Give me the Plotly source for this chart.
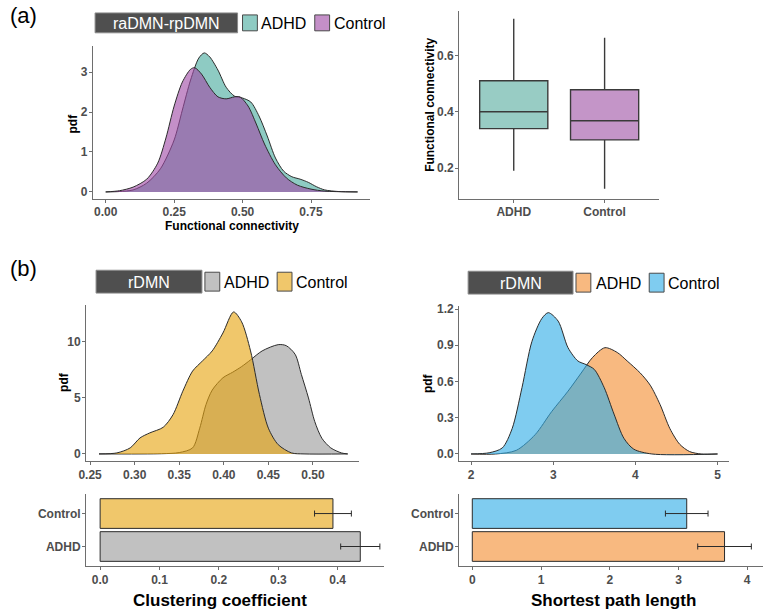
import plotly.graph_objects as go

W, H = 765, 610
FONT = "Liberation Sans"
TICK_GRAY = "#4D4D4D"
AXIS_GRAY = "#6E6E6E"
EDGE = "#2B2B2B"

# ---------------- data ----------------
# (a) raDMN-rpDMN functional connectivity, kernel density
fc_x_adhd = [0.0, 0.05, 0.10, 0.15, 0.20, 0.25, 0.28, 0.31, 0.34, 0.36, 0.38, 0.41, 0.44,
             0.47, 0.50, 0.53, 0.56, 0.59, 0.62, 0.65, 0.68, 0.71, 0.74, 0.77, 0.80, 0.85, 0.92]
fc_pdf_adhd = [0.0, 0.01, 0.05, 0.22, 0.58, 1.30, 2.05, 2.80, 3.35, 3.48, 3.38, 3.05, 2.62,
               2.40, 2.35, 2.25, 1.90, 1.40, 0.85, 0.52, 0.38, 0.32, 0.24, 0.13, 0.05, 0.01, 0.0]
fc_x_ctrl = [0.0, 0.05, 0.10, 0.15, 0.19, 0.22, 0.25, 0.28, 0.31, 0.325, 0.35, 0.38, 0.41,
             0.44, 0.47, 0.49, 0.52, 0.55, 0.58, 0.62, 0.66, 0.70, 0.75, 0.80, 0.92]
fc_pdf_ctrl = [0.0, 0.03, 0.12, 0.32, 0.72, 1.35, 2.15, 2.75, 3.07, 3.11, 2.95, 2.62, 2.38,
               2.33, 2.38, 2.38, 2.15, 1.70, 1.20, 0.68, 0.35, 0.17, 0.07, 0.02, 0.0]

# (a) boxplot summary
box_groups = ["ADHD", "Control"]
box_low = [0.19, 0.126]
box_q1 = [0.34, 0.30]
box_med = [0.40, 0.368]
box_q3 = [0.51, 0.478]
box_high = [0.73, 0.663]

# (b) rDMN clustering coefficient, kernel density
cc_x_adhd = [0.26, 0.33, 0.35, 0.365, 0.373, 0.38, 0.387, 0.399, 0.41, 0.42, 0.43, 0.443,
             0.461, 0.47, 0.48, 0.487, 0.495, 0.502, 0.51, 0.52, 0.532, 0.539]
cc_pdf_adhd = [0.0, 0.02, 0.12, 0.54, 2.3, 4.4, 5.7, 6.8, 7.3, 7.8, 8.4, 9.2,
               9.76, 9.67, 8.9, 7.1, 5.0, 2.9, 1.4, 0.54, 0.09, 0.0]
cc_x_ctrl = [0.26, 0.28, 0.295, 0.306, 0.317, 0.332, 0.343, 0.354, 0.365, 0.376, 0.387,
             0.399, 0.411, 0.42, 0.43, 0.44, 0.45, 0.461, 0.476, 0.49, 0.539]
cc_pdf_ctrl = [0.0, 0.09, 0.54, 1.43, 1.88, 2.38, 3.5, 5.6, 7.4, 8.3, 9.2,
               10.8, 12.68, 11.8, 9.2, 5.3, 2.3, 0.83, 0.09, 0.0, 0.0]

# (b) rDMN shortest path length, kernel density
spl_x_adhd = [2.0, 2.3, 2.55, 2.78, 2.98, 3.18, 3.34, 3.48, 3.63, 3.78, 3.9, 4.06, 4.18,
              4.3, 4.42, 4.54, 4.66, 4.8, 5.0]
spl_pdf_adhd = [0.0, 0.0, 0.03, 0.16, 0.35, 0.52, 0.67, 0.80, 0.88, 0.84, 0.77, 0.67, 0.57,
                0.41, 0.21, 0.08, 0.02, 0.0, 0.0]
spl_x_ctrl = [2.0, 2.22, 2.38, 2.5, 2.62, 2.74, 2.86, 2.94, 3.06, 3.18, 3.3, 3.4, 3.5,
              3.62, 3.74, 3.86, 3.98, 4.2, 5.0]
spl_pdf_ctrl = [0.0, 0.01, 0.05, 0.21, 0.55, 0.93, 1.12, 1.17, 1.10, 0.88, 0.77, 0.74, 0.70,
                0.55, 0.33, 0.13, 0.04, 0.0, 0.0]

# (b) group means with error bars
bar_groups = ["ADHD", "Control"]
cc_mean = [0.438, 0.392]
cc_err = [0.033, 0.031]
spl_mean = [3.67, 3.12]
spl_err = [0.39, 0.31]

# colours (alpha fills like ggplot)
COL_TEAL = "rgba(73,171,158,0.62)"
COL_PURPLE = "rgba(160,74,166,0.62)"
COL_GRAY = "rgba(155,155,155,0.62)"
COL_YELLOW = "rgba(230,165,16,0.62)"
COL_ORANGE = "rgba(244,142,50,0.62)"
COL_BLUE = "rgba(48,173,231,0.62)"


def px(x):
    return x / W


def py(y):
    return 1 - y / H


def axis(dom, rng, tickvals=None, fmt=None, anchor=None, **kw):
    d = dict(
        domain=dom, range=rng, anchor=anchor, showline=True, linecolor=AXIS_GRAY,
        linewidth=1.3, ticks="outside", ticklen=3, tickcolor=AXIS_GRAY, tickwidth=1,
        ticklabelstandoff=-1,
        showgrid=False, zeroline=False, fixedrange=True,
        tickfont=dict(family=FONT, size=12, color=TICK_GRAY, weight="bold"),
    )
    if tickvals is not None:
        d["tickvals"] = tickvals
    if fmt:
        d["tickformat"] = fmt
    d.update(kw)
    return d


def density(x, y, color, xa, ya):
    return go.Scatter(
        x=x, y=y, mode="lines", fill="tozeroy", fillcolor=color,
        line=dict(color=EDGE, width=1, shape="spline", smoothing=0.8),
        xaxis=xa, yaxis=ya, hoverinfo="skip",
    )


fig = go.Figure()

# (a) density
fig.add_trace(density(fc_x_adhd, fc_pdf_adhd, COL_TEAL, "x", "y"))
fig.add_trace(density(fc_x_ctrl, fc_pdf_ctrl, COL_PURPLE, "x", "y"))

# (a) boxplot
for i, fill in enumerate(["#98CCC4", "#C495C8"]):
    fig.add_trace(go.Box(
        x=[box_groups[i]], q1=[box_q1[i]], median=[box_med[i]], q3=[box_q3[i]],
        lowerfence=[box_low[i]], upperfence=[box_high[i]],
        fillcolor=fill, line=dict(color="#3A3A3A", width=1.4),
        width=0.75, whiskerwidth=0, boxpoints=False,
        xaxis="x2", yaxis="y2", hoverinfo="skip",
    ))

# (b) clustering coefficient
fig.add_trace(density(cc_x_adhd, cc_pdf_adhd, COL_GRAY, "x3", "y3"))
fig.add_trace(density(cc_x_ctrl, cc_pdf_ctrl, COL_YELLOW, "x3", "y3"))
fig.add_trace(go.Bar(
    y=bar_groups, x=cc_mean, orientation="h", width=0.9,
    marker=dict(color=[COL_GRAY, COL_YELLOW], line=dict(color=EDGE, width=1)),
    error_x=dict(type="data", array=cc_err, color=EDGE, thickness=1, width=3),
    xaxis="x4", yaxis="y4", hoverinfo="skip",
))

# (b) shortest path length
fig.add_trace(density(spl_x_adhd, spl_pdf_adhd, COL_ORANGE, "x5", "y5"))
fig.add_trace(density(spl_x_ctrl, spl_pdf_ctrl, COL_BLUE, "x5", "y5"))
fig.add_trace(go.Bar(
    y=bar_groups, x=spl_mean, orientation="h", width=0.9,
    marker=dict(color=[COL_ORANGE, COL_BLUE], line=dict(color=EDGE, width=1)),
    error_x=dict(type="data", array=spl_err, color=EDGE, thickness=1, width=3),
    xaxis="x6", yaxis="y6", hoverinfo="skip",
))

cat_axis = dict(type="category", categoryorder="array", categoryarray=bar_groups)

fig.update_layout(
    width=W, height=H, margin=dict(l=0, r=0, t=0, b=0),
    paper_bgcolor="white", plot_bgcolor="white", showlegend=False,
    font=dict(family=FONT),
    xaxis=axis([px(86), px(366)], [-0.046, 0.966], [0, 0.25, 0.5, 0.75], ".2f", "y"),
    yaxis=axis([py(196), py(42)], [-0.17, 3.66], [0, 1, 2, 3], None, "x"),
    xaxis2=axis([px(456), px(658)], [-0.6, 1.6], None, None, "y2", **cat_axis),
    yaxis2=axis([py(196), py(7)], [0.091, 0.758], [0.2, 0.4, 0.6], ".1f", "x2"),
    xaxis3=axis([px(79), px(355)], [0.2456, 0.552], [0.25, 0.30, 0.35, 0.40, 0.45, 0.50], ".2f", "y3"),
    yaxis3=axis([py(460), py(303)], [-0.63, 13.3], [0, 5, 10], None, "x3"),
    xaxis4=axis([px(79), px(380)], [-0.0235, 0.478], [0, 0.1, 0.2, 0.3, 0.4], ".1f", "y4"),
    yaxis4=axis([py(566), py(493)], [-0.6, 1.6], None, None, "x4", **cat_axis),
    xaxis5=axis([px(456), px(729)], [1.856, 5.144], [2, 3, 4, 5], None, "y5"),
    yaxis5=axis([py(460), py(304)], [-0.058, 1.225], [0, 0.3, 0.6, 0.9, 1.2], ".1f", "x5"),
    xaxis6=axis([px(456), px(763)], [-0.19, 4.23], [0, 1, 2, 3, 4], None, "y6"),
    yaxis6=axis([py(566), py(493)], [-0.6, 1.6], None, None, "x6", **cat_axis),
)

# ---------------- text: panel labels and axis titles ----------------
def label(text, x, y, size=12, bold=True, angle=0, xanchor="center", color="black"):
    fig.add_annotation(
        text=text, x=px(x), y=py(y), xref="paper", yref="paper", showarrow=False,
        xanchor=xanchor, yanchor="middle", textangle=angle,
        font=dict(family=FONT, size=size, color=color, weight="bold" if bold else "normal"),
    )


label("(a)", 0, 12, size=22, bold=False, xanchor="left")
label("(b)", 0, 266, size=22, bold=False, xanchor="left")
label("pdf", 66, 120, angle=-90)
label("Functional connectivity", 226, 223)
label("Functional connectivity", 427, 102, angle=-90)
label("pdf", 56, 380, angle=-90)
label("pdf", 425, 382, angle=-90)
label("Clustering coefficient", 214, 600, size=17)
label("Shortest path length", 612, 600, size=17)


# ---------------- ggplot-style legends ----------------
def legend(title, x0, x1, y0, y1, items):
    fig.add_shape(type="rect", xref="paper", yref="paper",
                  x0=px(x0), x1=px(x1), y0=py(y1), y1=py(y0),
                  fillcolor="#4F4F4F", line=dict(color="#8A8A8A", width=1))
    label(title, (x0 + x1) / 2, (y0 + y1) / 2 + 1, size=16, bold=False, color="white")
    for sx, tx, color, name in items:
        fig.add_shape(type="rect", xref="paper", yref="paper",
                      x0=px(sx), x1=px(sx + 15), y0=py(y1 - 2), y1=py(y0 + 2),
                      fillcolor=color, line=dict(color="#4A4A4A", width=1))
        label(name, tx, (y0 + y1) / 2 + 1, size=16, bold=False, xanchor="left")


legend("raDMN-rpDMN", 88, 232, 9, 29,
       [(237, 254, COL_TEAL, "ADHD"), (310, 327, COL_PURPLE, "Control")])
legend("rDMN", 89, 196, 268, 291,
       [(199, 216, COL_GRAY, "ADHD"), (272, 289, COL_YELLOW, "Control")])
legend("rDMN", 465, 571, 269, 292,
       [(574, 592, COL_ORANGE, "ADHD"), (648, 665, COL_BLUE, "Control")])

# page margin would push the fixed-size figure off the window
fig.write_html("out.html", config={"displayModeBar": False},
               post_script="document.body.style.margin='0px';")
